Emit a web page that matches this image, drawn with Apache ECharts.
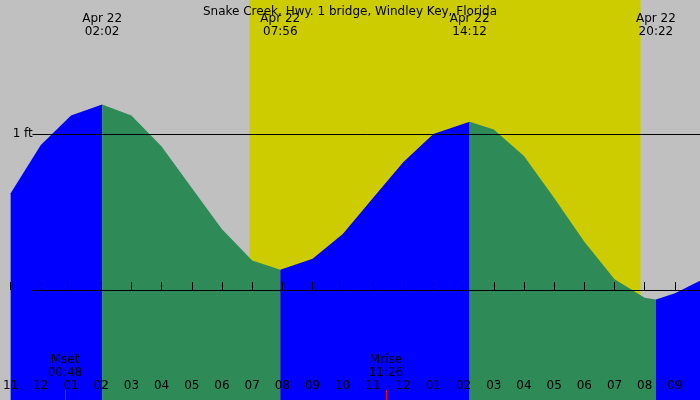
<!DOCTYPE html>
<html>
<head>
<meta charset="utf-8">
<script src="https://cdn.jsdelivr.net/npm/echarts@6/dist/echarts.min.js"></script>
<style>html,body{margin:0;padding:0}#chart{width:700px;height:400px}</style>
</head>
<body>
<div id="chart"></div>
<script>
// hours from midnight Apr 22, height in ft
var rise1 = [[-1, 0.62], [0, 0.93], [1, 1.12], [2.03, 1.19]];
var fall1 = [[2.03, 1.19], [3, 1.12], [4, 0.92], [5, 0.655], [6, 0.39], [7, 0.19], [7.93, 0.13]];
var rise2 = [[7.93, 0.13], [9, 0.2], [10, 0.36], [11, 0.59], [12, 0.82], [13, 1.0], [14.2, 1.08]];
var fall2 = [[14.2, 1.08], [15, 1.03], [16, 0.86], [17, 0.59], [18, 0.31], [19, 0.07], [20, -0.05], [20.37, -0.06]];
var rise3 = [[20.37, -0.06], [21, -0.02], [21.83, 0.06]];
var extremeTimes = [2.03, 7.93, 14.2, 20.37];
var extremeLabels = ['02:02', '07:56', '14:12', '20:22'];
var hourTicks = [-1, 0, 1, 2, 3, 4, 5, 6, 7, 8, 9, 10, 11, 12, 13, 14, 15, 16, 17, 18, 19, 20, 21];
var sunrise = 6.91, sunset = 19.86;
var moon = [{ t: 0.8, name: 'Mset', time: '00:48' }, { t: 11.43, name: 'Mrise', time: '11:26' }];

var chart = echarts.init(document.getElementById('chart'));
var font = 'DejaVu Sans';
var yMin = -0.705, yMax = 1.86;

function tide(data, color) {
  return {
    type: 'line', data: data, z: 3, symbol: 'none', silent: true,
    lineStyle: { width: 0 }, areaStyle: { color: color, opacity: 1, origin: 'start' }
  };
}

chart.setOption({
  animation: false,
  backgroundColor: '#c0c0c0',
  title: { text: 'Snake Creek, Hwy. 1 bridge, Windley Key, Florida', left: 'center', top: 1,
    textStyle: { fontFamily: font, fontSize: 12, fontWeight: 'normal', color: '#000' } },
  grid: { left: 0, right: 0, top: 0, bottom: 0 },
  xAxis: [{
    type: 'value', min: -1, max: 21.83, splitLine: { show: false }, axisLine: { show: false },
    axisTick: { inside: true, length: 8, customValues: hourTicks, lineStyle: { color: '#000' } },
    axisLabel: { inside: true, margin: 8, customValues: hourTicks, fontFamily: font, fontSize: 12, color: '#000',
      formatter: function (v) { var h = ((Math.round(v) % 12) + 12) % 12; if (h === 0) h = 12; return (h < 10 ? '0' : '') + h; } },
    z: 4
  }, {
    type: 'value', position: 'top', min: -1, max: 21.83, splitLine: { show: false }, axisLine: { show: false },
    axisTick: { show: false },
    axisLabel: { inside: true, margin: 12, customValues: extremeTimes, fontFamily: font, fontSize: 12, color: '#000', lineHeight: 13,
      formatter: function (v) { return 'Apr 22\n' + extremeLabels[extremeTimes.indexOf(v)]; } },
    z: 4
  }],
  yAxis: {
    type: 'value', min: yMin, max: yMax, splitLine: { show: false }, axisLine: { show: false }, axisTick: { show: false },
    axisLabel: { inside: true, margin: 2, customValues: [0, 1], fontFamily: font, fontSize: 12, color: '#000',
      formatter: function (v) { return v + ' ft'; } },
    z: 0
  },
  series: [
    {
      type: 'line', data: [], z: 1, silent: true,
      markArea: { silent: true, itemStyle: { color: '#cccc00' }, data: [[{ xAxis: sunrise, yAxis: yMin }, { xAxis: sunset, yAxis: yMax }]] },
      markLine: { silent: true, symbol: 'none', label: { show: false }, lineStyle: { color: '#000', width: 1, type: 'solid' },
        data: [[{ coord: [-0.28, 1] }, { coord: [21.83, 1] }], [{ coord: [-0.28, 0] }, { coord: [21.83, 0] }]] }
    },
    tide(rise1, '#0000ff'), tide(fall1, '#2e8b57'), tide(rise2, '#0000ff'), tide(fall2, '#2e8b57'), tide(rise3, '#0000ff'),
    {
      type: 'line', data: [], z: 5, silent: true,
      markPoint: { symbol: 'circle', symbolSize: 0,
        data: moon.map(function (m) { return { coord: [m.t, -0.49], value: m.name + '\n' + m.time }; }),
        label: { show: true, formatter: '{c}', fontFamily: font, fontSize: 12, color: '#000', lineHeight: 13 } },
      markLine: { silent: true, symbol: 'none', label: { show: false }, lineStyle: { color: '#ff0000', width: 1, type: 'solid' },
        data: moon.map(function (m) { return [{ coord: [m.t, yMin] }, { coord: [m.t, -0.64] }]; }) }
    }
  ]
});
</script>
</body>
</html>
